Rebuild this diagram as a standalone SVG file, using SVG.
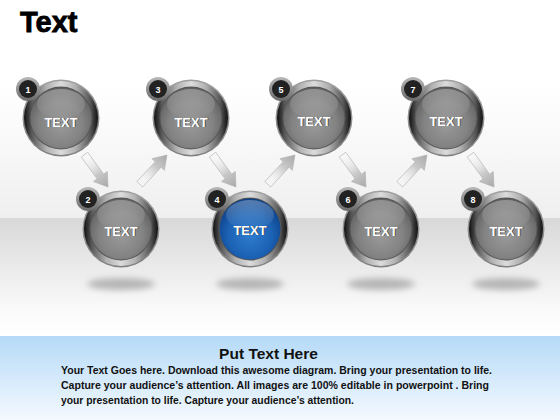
<svg xmlns="http://www.w3.org/2000/svg" width="560" height="420" viewBox="0 0 560 420">
<defs>
<linearGradient id="bgTop" x1="0" y1="0" x2="0" y2="1">
<stop offset="0" stop-color="#ffffff"/><stop offset="0.4" stop-color="#ffffff"/><stop offset="1" stop-color="#efefef"/>
</linearGradient>
<linearGradient id="bgFloor" x1="0" y1="0" x2="0" y2="1">
<stop offset="0" stop-color="#d8d8d8"/><stop offset="0.8" stop-color="#fbfbfb"/><stop offset="1" stop-color="#ffffff"/>
</linearGradient>
<linearGradient id="panel" x1="0" y1="0" x2="0" y2="1">
<stop offset="0" stop-color="#b5daf8"/><stop offset="1" stop-color="#f4f9fe"/>
</linearGradient>
<linearGradient id="ring" x1="0" y1="0" x2="1" y2="0">
<stop offset="0" stop-color="#111"/><stop offset="0.1" stop-color="#555"/><stop offset="0.3" stop-color="#b0b0b0"/><stop offset="0.5" stop-color="#dcdcdc"/><stop offset="0.7" stop-color="#b0b0b0"/><stop offset="0.9" stop-color="#555"/><stop offset="1" stop-color="#111"/>
</linearGradient>
<linearGradient id="ringEdge" x1="0" y1="0" x2="0" y2="1">
<stop offset="0" stop-color="#a0a0a0"/><stop offset="1" stop-color="#808080"/>
</linearGradient>
<radialGradient id="sphere" cx="0.5" cy="0.6" r="0.6">
<stop offset="0" stop-color="#9a9a9a"/><stop offset="0.6" stop-color="#838383"/><stop offset="1" stop-color="#5e5e5e"/>
</radialGradient>
<linearGradient id="gloss" x1="0" y1="0" x2="0" y2="1">
<stop offset="0" stop-color="#ffffff" stop-opacity="0.3"/><stop offset="1" stop-color="#ffffff" stop-opacity="0"/>
</linearGradient>
<radialGradient id="sphereBlue" cx="0.5" cy="0.6" r="0.6">
<stop offset="0" stop-color="#2f7ccf"/><stop offset="0.6" stop-color="#1c62b4"/><stop offset="1" stop-color="#0c3f85"/>
</radialGradient>
<linearGradient id="badge" x1="0" y1="0" x2="0" y2="1">
<stop offset="0" stop-color="#b8b8b8"/><stop offset="1" stop-color="#6a6a6a"/>
</linearGradient>
<linearGradient id="arrowGrad" x1="0" y1="0" x2="1" y2="0">
<stop offset="0" stop-color="#ffffff" stop-opacity="0.1"/><stop offset="0.6" stop-color="#c8c8c8"/><stop offset="1" stop-color="#a8a8a8"/>
</linearGradient>
<filter id="blur" x="-50%" y="-100%" width="200%" height="300%"><feGaussianBlur stdDeviation="3"/></filter>
<path id="arrow" d="M-40,-4 L-13,-4 L-13,-8.5 L0,0 L-13,8.5 L-13,4 L-40,4 Z"/>
<g id="ball">
<circle r="38.5" fill="url(#ringEdge)"/>
<circle r="37" fill="url(#ring)"/>
<circle r="31.5" fill="#555"/>
</g>
</defs>
<style>
.title{font-family:"Liberation Sans",Arial,sans-serif;font-weight:bold;font-size:29px;fill:#000;stroke:#000;stroke-width:0.8}
.lbl{font-family:"Liberation Sans",Arial,sans-serif;font-weight:bold;font-size:13px;fill:#fff;text-anchor:middle}
.lblsh{font-family:"Liberation Sans",Arial,sans-serif;font-weight:bold;font-size:13px;fill:#333;text-anchor:middle}
.num{font-family:"Liberation Sans",Arial,sans-serif;font-weight:bold;font-size:9px;fill:#fff;text-anchor:middle}
.head{font-family:"Liberation Sans",Arial,sans-serif;font-weight:bold;font-size:15.5px;fill:#111;text-anchor:middle}
.body{font-family:"Liberation Sans",Arial,sans-serif;font-weight:bold;font-size:10.5px;fill:#111}
.arr{fill:url(#arrowGrad);stroke:#b0b0b0;stroke-width:0.6}
.shadow{fill:#b5b5b5;filter:url(#blur)}
</style>
<rect x="0" y="0" width="560" height="218" fill="url(#bgTop)"/>
<rect x="0" y="218" width="560" height="118" fill="url(#bgFloor)"/>
<rect x="0" y="336" width="560" height="84" fill="url(#panel)"/>
<text class="title" x="20" y="32">Text</text>

<g id="shadows">
<ellipse class="shadow" cx="121" cy="284" rx="34" ry="6"/>
<ellipse class="shadow" cx="250" cy="284" rx="34" ry="6"/>
<ellipse class="shadow" cx="381" cy="284" rx="34" ry="6"/>
<ellipse class="shadow" cx="506" cy="284" rx="34" ry="6"/>
</g>

<g id="connectors">
<use href="#arrow" class="arr" transform="translate(108,187) rotate(54)"/>
<use href="#arrow" class="arr" transform="translate(167,155) rotate(-47)"/>
<use href="#arrow" class="arr" transform="translate(236,187) rotate(54)"/>
<use href="#arrow" class="arr" transform="translate(295,155) rotate(-47)"/>
<use href="#arrow" class="arr" transform="translate(366,187) rotate(54)"/>
<use href="#arrow" class="arr" transform="translate(427,155) rotate(-47)"/>
<use href="#arrow" class="arr" transform="translate(494,187) rotate(54)"/>
</g>

<g id="node1" transform="translate(61,118)">
<use href="#ball"/><circle r="30.5" fill="url(#sphere)"/><ellipse cx="0" cy="-14" rx="24" ry="15" fill="url(#gloss)"/>
<text class="lblsh" x="0.8" y="9.3">TEXT</text><text class="lbl" x="0" y="8.5">TEXT</text>
<circle cx="-33" cy="-29" r="12" fill="url(#badge)"/><circle cx="-33" cy="-29" r="9" fill="#222"/><text class="num" x="-33" y="-25.5">1</text>
</g>
<g id="node2" transform="translate(121,229)">
<use href="#ball"/><circle r="30.5" fill="url(#sphere)"/><ellipse cx="0" cy="-14" rx="24" ry="15" fill="url(#gloss)"/>
<text class="lblsh" x="0.8" y="7.3">TEXT</text><text class="lbl" x="0" y="6.5">TEXT</text>
<circle cx="-33" cy="-30" r="12" fill="url(#badge)"/><circle cx="-33" cy="-30" r="9" fill="#222"/><text class="num" x="-33" y="-26.5">2</text>
</g>
<g id="node3" transform="translate(191,118)">
<use href="#ball"/><circle r="30.5" fill="url(#sphere)"/><ellipse cx="0" cy="-14" rx="24" ry="15" fill="url(#gloss)"/>
<text class="lblsh" x="0.8" y="9.3">TEXT</text><text class="lbl" x="0" y="8.5">TEXT</text>
<circle cx="-33" cy="-29" r="12" fill="url(#badge)"/><circle cx="-33" cy="-29" r="9" fill="#222"/><text class="num" x="-33" y="-25.5">3</text>
</g>
<g id="node4" transform="translate(250,229)">
<use href="#ball"/><circle r="30.5" fill="url(#sphereBlue)"/><ellipse cx="0" cy="-14" rx="24" ry="15" fill="url(#gloss)"/>
<text class="lblsh" x="0.8" y="6.3">TEXT</text><text class="lbl" x="0" y="5.5">TEXT</text>
<circle cx="-33" cy="-30" r="12" fill="url(#badge)"/><circle cx="-33" cy="-30" r="9" fill="#222"/><text class="num" x="-33" y="-26.5">4</text>
</g>
<g id="node5" transform="translate(314,118)">
<use href="#ball"/><circle r="30.5" fill="url(#sphere)"/><ellipse cx="0" cy="-14" rx="24" ry="15" fill="url(#gloss)"/>
<text class="lblsh" x="0.8" y="8.3">TEXT</text><text class="lbl" x="0" y="7.5">TEXT</text>
<circle cx="-33" cy="-29" r="12" fill="url(#badge)"/><circle cx="-33" cy="-29" r="9" fill="#222"/><text class="num" x="-33" y="-25.5">5</text>
</g>
<g id="node6" transform="translate(381,229)">
<use href="#ball"/><circle r="30.5" fill="url(#sphere)"/><ellipse cx="0" cy="-14" rx="24" ry="15" fill="url(#gloss)"/>
<text class="lblsh" x="0.8" y="7.3">TEXT</text><text class="lbl" x="0" y="6.5">TEXT</text>
<circle cx="-33" cy="-30" r="12" fill="url(#badge)"/><circle cx="-33" cy="-30" r="9" fill="#222"/><text class="num" x="-33" y="-26.5">6</text>
</g>
<g id="node7" transform="translate(446,118)">
<use href="#ball"/><circle r="30.5" fill="url(#sphere)"/><ellipse cx="0" cy="-14" rx="24" ry="15" fill="url(#gloss)"/>
<text class="lblsh" x="0.8" y="8.3">TEXT</text><text class="lbl" x="0" y="7.5">TEXT</text>
<circle cx="-33" cy="-29" r="12" fill="url(#badge)"/><circle cx="-33" cy="-29" r="9" fill="#222"/><text class="num" x="-33" y="-25.5">7</text>
</g>
<g id="node8" transform="translate(506,229)">
<use href="#ball"/><circle r="30.5" fill="url(#sphere)"/><ellipse cx="0" cy="-14" rx="24" ry="15" fill="url(#gloss)"/>
<text class="lblsh" x="0.8" y="7.3">TEXT</text><text class="lbl" x="0" y="6.5">TEXT</text>
<circle cx="-33" cy="-30" r="12" fill="url(#badge)"/><circle cx="-33" cy="-30" r="9" fill="#222"/><text class="num" x="-33" y="-26.5">8</text>
</g>

<g id="caption">
<text class="head" x="268.5" y="359">Put Text Here</text>
<text class="body" x="61" y="374" textLength="431" lengthAdjust="spacingAndGlyphs">Your Text Goes here. Download this awesome diagram. Bring your presentation to life.</text>
<text class="body" x="61" y="389" textLength="428" lengthAdjust="spacingAndGlyphs">Capture your audience’s attention. All images are 100% editable in powerpoint . Bring</text>
<text class="body" x="61" y="404" textLength="293" lengthAdjust="spacingAndGlyphs">your presentation to life. Capture your audience’s attention.</text>
</g>
</svg>
